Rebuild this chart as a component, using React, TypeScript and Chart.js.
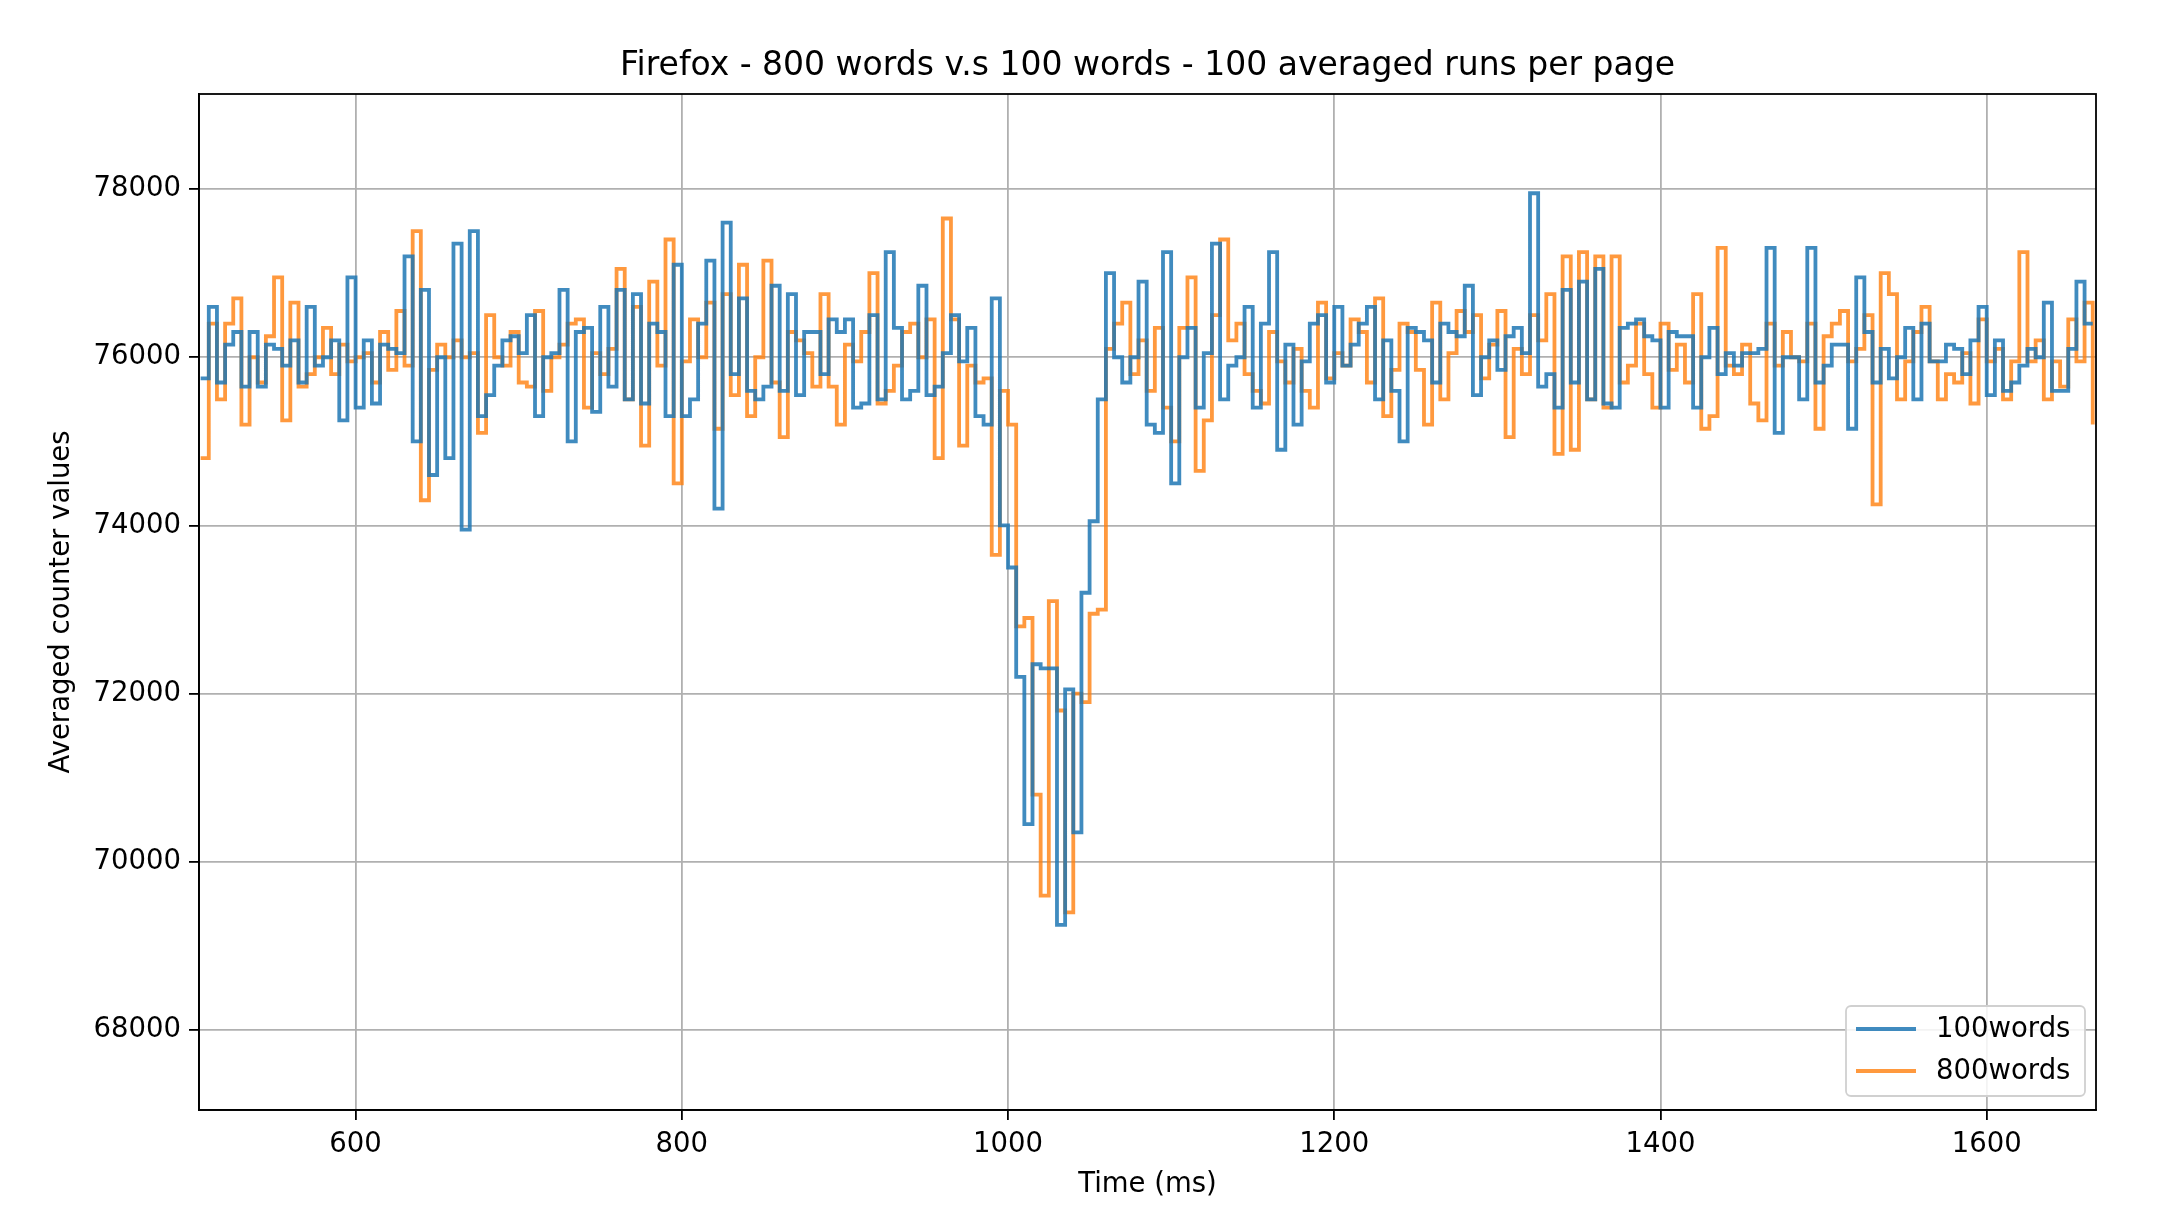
import React, { useEffect, useRef } from "react";
import { Chart, registerables } from "chart.js";
Chart.register(...registerables);

const START_MS = 505;
const STEP_MS = 5;
const xTicks = [600, 800, 1000, 1200, 1400, 1600];
const yTicks = [68000, 70000, 72000, 74000, 76000, 78000];

const words100 = [
  75750, 76600, 75700, 76150, 76300, 75650, 76300, 75650, 76150, 76100,
  75900, 76200, 75700, 76600, 75900, 76000, 76200, 75250, 76950, 75400,
  76200, 75450, 76150, 76100, 76050, 77200, 75000, 76800, 74600, 76000,
  74800, 77350, 73950, 77500, 75300, 75550, 75900, 76200, 76250, 76050,
  76500, 75300, 76000, 76050, 76800, 75000, 76300, 76350, 75350, 76600,
  75650, 76800, 75500, 76750, 75450, 76400, 76300, 75300, 77100, 75300,
  75500, 76400, 77150, 74200, 77600, 75800, 76700, 75600, 75500, 75650,
  76850, 75600, 76750, 75550, 76300, 76300, 75800, 76450, 76300, 76450,
  75400, 75450, 76500, 75500, 77250, 76350, 75500, 75600, 76850, 75550,
  75650, 76050, 76500, 75950, 76350, 75300, 75200, 76700, 74000, 73500,
  72200, 70450, 72350, 72300, 72300, 69250, 72050, 70350, 73200, 74050,
  75500, 77000, 76000, 75700, 76000, 76900, 75200, 75100, 77250, 74500,
  76000, 76350, 75400, 76050, 77350, 75500, 75900, 76000, 76600, 75400,
  76400, 77250, 74900, 76150, 75200, 75950, 76400, 76500, 75700, 76600,
  75900, 76150, 76400, 76600, 75500, 76200, 75600, 75000, 76350, 76300,
  76200, 75700, 76400, 76300, 76250, 76850, 75550, 76000, 76200, 75850,
  76250, 76350, 76050, 77950, 75650, 75800, 75400, 76800, 75700, 76900,
  75500, 77050, 75450, 75400, 76350, 76400, 76450, 76250, 76200, 75400,
  76300, 76250, 76250, 75400, 76000, 76350, 75800, 76050, 75900, 76050,
  76050, 76100, 77300, 75100, 76000, 76000, 75500, 77300, 75700, 75900,
  76150, 76150, 75150, 76950, 76300, 75700, 76100, 75750, 76000, 76350,
  75500, 76400, 75950, 75950, 76150, 76100, 75800, 76200, 76600, 75550,
  76200, 75600, 75700, 75900, 76100, 76000, 76650, 75600, 75600, 76100,
  76900, 76400, 76400,
];

const words800 = [
  74800, 76400, 75500, 76400, 76700, 75200, 76000, 75700, 76250, 76950,
  75250, 76650, 75650, 75800, 76000, 76350, 75800, 76150, 75950, 76000,
  76050, 75700, 76300, 75850, 76550, 75900, 77500, 74300, 75850, 76150,
  76000, 76200, 76000, 76050, 75100, 76500, 76000, 75900, 76300, 75700,
  75650, 76550, 75600, 76000, 76150, 76400, 76450, 75400, 76050, 75800,
  76100, 77050, 75500, 76600, 74950, 76900, 75900, 77400, 74500, 75950,
  76450, 76000, 76650, 75150, 76750, 75550, 77100, 75300, 76000, 77150,
  75700, 75050, 76300, 76200, 76050, 75650, 76750, 75650, 75200, 76150,
  75950, 76300, 77000, 75450, 75600, 75900, 76300, 76400, 76000, 76450,
  74800, 77650, 76450, 74950, 75900, 75700, 75750, 73650, 75600, 75200,
  72800, 72900, 70800, 69600, 73100, 71800, 69400, 72000, 71900, 72950,
  73000, 76100, 76400, 76650, 75800, 76200, 75600, 76350, 75400, 75000,
  76350, 76950, 74650, 75250, 76500, 77400, 76200, 76400, 75800, 75600,
  75450, 76300, 75950, 75700, 76100, 75600, 75400, 76650, 75750, 76050,
  75900, 76450, 76300, 75700, 76700, 75300, 75850, 76400, 76300, 75850,
  75200, 76650, 75500, 76050, 76550, 76300, 76500, 75750, 76150, 76550,
  75050, 76100, 75800, 76500, 76200, 76750, 74850, 77200, 74900, 77250,
  75500, 77200, 75400, 77200, 75700, 75900, 76400, 75800, 75400, 76400,
  75850, 76150, 75700, 76750, 75150, 75300, 77300, 75900, 75800, 76150,
  75450, 75250, 76400, 75900, 76300, 76000, 75950, 76400, 75150, 76250,
  76400, 76550, 75950, 76100, 76500, 74250, 77000, 76750, 75500, 75950,
  76300, 76600, 75950, 75500, 75800, 75700, 76050, 75450, 76450, 75950,
  76100, 75500, 75950, 77250, 75950, 76200, 75500, 75950, 75650, 76450,
  75950, 76650, 75200,
];

const toPoints = (vals: number[]) => vals.map((y, i) => ({ x: START_MS + STEP_MS * i, y }));

const FONT = "'DejaVu Sans', sans-serif";
const BLUE = "rgba(31,119,180,0.85)";
const ORANGE = "rgba(255,127,14,0.8)";

const decor = {
  id: "decor",
  afterDraw(chart: any) {
    const { ctx, chartArea: a } = chart;
    ctx.save();
    ctx.strokeStyle = "#000";
    ctx.lineWidth = 1.8;
    ctx.strokeRect(a.left, a.top, a.right - a.left, a.bottom - a.top);
    ctx.fillStyle = "#000";
    ctx.textAlign = "center";
    ctx.textBaseline = "middle";
    ctx.font = `33px ${FONT}`;
    ctx.fillText("Firefox - 800 words v.s 100 words - 100 averaged runs per page", (a.left + a.right) / 2, 66);
    ctx.font = `27.5px ${FONT}`;
    ctx.fillText("Time (ms)", (a.left + a.right) / 2, 1185);
    ctx.save();
    ctx.translate(62, (a.top + a.bottom) / 2);
    ctx.rotate(-Math.PI / 2);
    ctx.fillText("Averaged counter values", 0, 0);
    ctx.restore();
    const lx = 1846, ly = 1006, lw = 239, lh = 90;
    ctx.fillStyle = "rgba(255,255,255,0.85)";
    ctx.strokeStyle = "#d0d0d0";
    ctx.lineWidth = 1.8;
    ctx.beginPath();
    (ctx as any).roundRect(lx, ly, lw, lh, 5);
    ctx.fill();
    ctx.stroke();
    const items = [
      ["100words", BLUE, 1029],
      ["800words", ORANGE, 1071],
    ] as const;
    ctx.textAlign = "left";
    ctx.font = `27.5px ${FONT}`;
    for (const [label, color, y] of items) {
      ctx.strokeStyle = color;
      ctx.lineWidth = 3.8;
      ctx.beginPath();
      ctx.moveTo(1856, y);
      ctx.lineTo(1916, y);
      ctx.stroke();
      ctx.fillStyle = "#000";
      ctx.fillText(label, 1936, y + 1);
    }
    ctx.restore();
  },
};

export default function App() {
  const ref = useRef<HTMLCanvasElement>(null);
  useEffect(() => {
    document.body.style.margin = "0";
    const chart = new Chart(ref.current!, {
      type: "line",
      data: {
        datasets: [
          { label: "100words", data: toPoints(words100), borderColor: BLUE, borderWidth: 3.8, stepped: "before", pointRadius: 0, fill: false },
          { label: "800words", data: toPoints(words800), borderColor: ORANGE, borderWidth: 3.8, stepped: "before", pointRadius: 0, fill: false },
        ],
      },
      options: {
        animation: false,
        responsive: false,
        layout: { padding: { top: 94, right: 78, left: 0, bottom: 0 } },
        plugins: { legend: { display: false }, title: { display: false }, tooltip: { enabled: false } },
        scales: {
          x: {
            type: "linear",
            min: 504,
            max: 1667,
            afterBuildTicks: (s: any) => { s.ticks = xTicks.map((v) => ({ value: v })); },
            afterFit: (s: any) => { s.height = 122; },
            grid: { color: "#b0b0b0", lineWidth: 1.8, tickColor: "#000", tickLength: 10 },
            border: { color: "#000", width: 1.8 },
            ticks: { color: "#000", font: { family: FONT, size: 27.5 }, padding: 8, maxRotation: 0, callback: (v: any) => String(v) },
          },
          y: {
            type: "linear",
            min: 67050,
            max: 79130,
            afterBuildTicks: (s: any) => { s.ticks = yTicks.map((v) => ({ value: v })); },
            afterFit: (s: any) => { s.width = 199; },
            grid: { color: "#b0b0b0", lineWidth: 1.8, tickColor: "#000", tickLength: 10 },
            border: { color: "#000", width: 1.8 },
            ticks: { color: "#000", font: { family: FONT, size: 27.5 }, padding: 8, callback: (v: any) => String(v) },
          },
        },
      },
      plugins: [decor],
    });
    return () => chart.destroy();
  }, []);
  return <canvas ref={ref} width={2174} height={1232} style={{ display: "block" }} />;
}
